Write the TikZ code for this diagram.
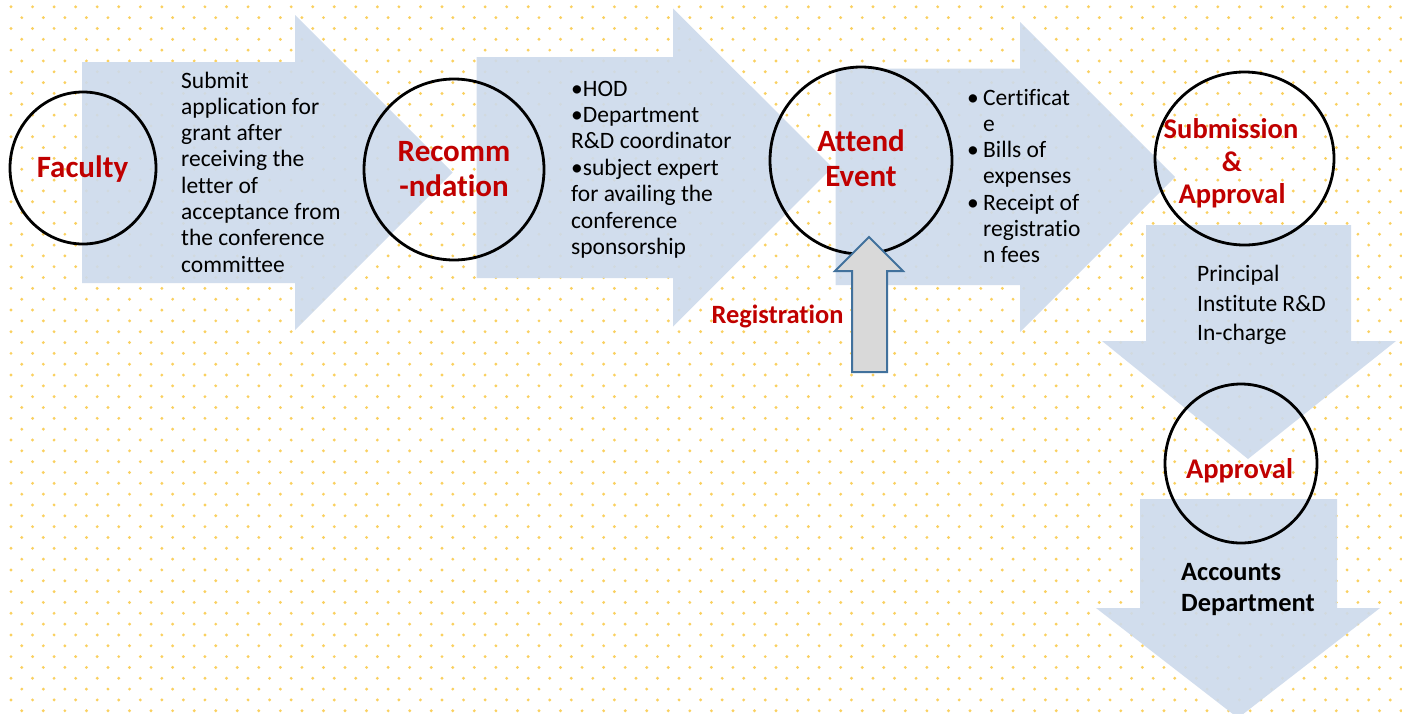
\documentclass[tikz,border=0pt]{standalone}
\usepackage{fontspec}
\setmainfont{Carlito}[Ligatures={NoCommon}]
\usetikzlibrary{shapes.geometric}
\definecolor{arrowblue}{RGB}{205,218,236}
\definecolor{dotyellow}{RGB}{250,208,95}
\definecolor{labelred}{RGB}{192,0,0}
\definecolor{regfill}{RGB}{217,217,217}
\definecolor{regedge}{RGB}{65,113,156}
\begin{document}
\begin{tikzpicture}[x=1pt,y=-1pt,
  flow/.style={fill=arrowblue, fill opacity=0.9, draw=none},
  ring/.style={draw=black, line width=2.8pt, ellipse, inner sep=0pt, fill=none},
  lbl/.style={text=labelred, font=\fontsize{31}{35}\selectfont\bfseries, anchor=base, inner sep=0pt},
  lblsm/.style={lbl, font=\fontsize{28.5}{32}\selectfont\bfseries},
  body/.style={font=\fontsize{23.5}{26.3}\selectfont, anchor=base west, inner sep=0pt},
  bodybold/.style={font=\fontsize{26.4}{31.7}\selectfont\bfseries, anchor=base west, inner sep=0pt},
  regarrow/.style={fill=regfill, draw=regedge, line width=2pt, line join=miter},
]
\useasboundingbox (0,0) rectangle (1402,713);
\fill[white] (0,0) rectangle (1402,713);
% dotted background
\foreach \j in {0,...,65} {
  \foreach \i in {0,...,65} {
    \fill[dotyellow] ({11+21.55*\i+10.78*mod(\j,2)}, {6.8+10.83*\j}) circle[radius=1.6];
  }
}
% block arrows
\fill[flow] (82,62) -- (295,62) -- (295,15) -- (452.5,172.5) -- (295,330) -- (295,283) -- (82,283) -- cycle;
\fill[flow] (476.5,57) -- (673,57) -- (673,8.5) -- (832.5,167.5) -- (673,326.5) -- (673,278) -- (476.5,278) -- cycle;
\fill[flow] (835.5,68.5) -- (1020,68.5) -- (1020,22) -- (1175,177) -- (1020,332) -- (1020,285) -- (835.5,285) -- cycle;
\fill[flow] (1146,225) -- (1351,225) -- (1351,341) -- (1396,341) -- (1248,459) -- (1102,341) -- (1146,341) -- cycle;
\fill[flow] (1140,499) -- (1337,499) -- (1337,608) -- (1380,608) -- (1238,718) -- (1096,608) -- (1140,608) -- cycle;
% circles
\node[ring, minimum width=146pt, minimum height=152pt] (faculty) at (83,168) {};
\node[ring, minimum width=180pt, minimum height=181pt] (recomm) at (454,169.5) {};
\node[ring, minimum width=182pt, minimum height=187pt] (attend) at (861,160.5) {};
\node[ring, minimum width=179pt, minimum height=173pt] (submission) at (1244.5,158.5) {};
\node[ring, minimum width=152pt, minimum height=159pt] (approval) at (1241,463.5) {};
% registration arrow
\draw[regarrow] (869,237) -- (903,271) -- (887,271) -- (887,372) -- (852,372) -- (852,271) -- (835,271) -- cycle;
% red labels
\node[lbl] (facultyT) at (82.5,177.7) {Faculty};
\node[lbl] (recommT1) at (454,161.7) {Recomm};
\node[lbl] (recommT2) at (454,196.7) {-ndation};
\node[lbl] (attendT1) at (861,151.7) {Attend};
\node[lbl] (attendT2) at (861,186.7) {Event};
\node[lblsm] (subT1) at (1231,138.3) {Submission};
\node[lblsm] (subT2) at (1232,171) {\&};
\node[lblsm] (subT3) at (1232,203) {Approval};
\node[lblsm] (approvalT) at (1239.5,478) {Approval};
\node[lbl, font=\fontsize{26.4}{30}\selectfont\bfseries] (regT) at (777.5,323.3) {Registration};
% arrow texts
\foreach \t [count=\k from 0] in {Submit, application for, grant after, receiving the, letter of, acceptance from, the conference, committee}
  \node[body] (a1-\k) at (181, 88+26.3*\k) {\t};
\foreach \t [count=\k from 0] in {•HOD, •Department, R\&D coordinator, •subject expert, for availing the, conference, sponsorship}
  \node[body] (a2-\k) at (571, 96+26.4*\k) {\t};
\foreach \t [count=\k from 0] in {Certificat, e, Bills of, expenses, Receipt of, registratio, n fees}
  \node[body] (a3-\k) at (983, 105+26.3*\k) {\t};
\foreach \k in {0,2,4}
  \node[body] (b3-\k) at (967, 105+26.3*\k) {•};
\foreach \t [count=\k from 0] in {Principal, Institute R\&D, In-charge}
  \node[body] (a4-\k) at (1197, 281.7+29.5*\k) {\t};
\node[bodybold] (acc1) at (1181,580) {Accounts};
\node[bodybold] (acc2) at (1181,611.7) {Department};
\end{tikzpicture}
\end{document}
